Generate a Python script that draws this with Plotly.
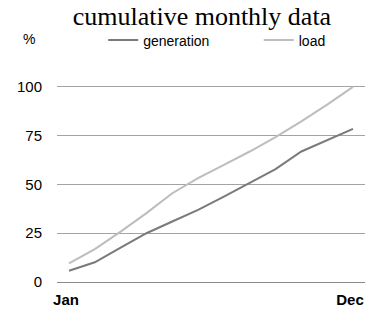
import plotly.graph_objects as go

months = ["Jan", "Feb", "Mar", "Apr", "May", "Jun", "Jul", "Aug", "Sep", "Oct", "Nov", "Dec"]
generation = [5.8, 10.1, 17.6, 25.0, 31.0, 37.0, 43.8, 50.7, 57.9, 66.9, 72.9, 78.5]
load = [9.6, 16.9, 25.8, 35.3, 45.5, 53.2, 60.0, 66.9, 74.3, 82.3, 90.9, 100.0]
y_ticks = [0, 25, 50, 75, 100]
x_tick_labels = ["Jan", "Dec"]

fig = go.Figure()
fig.add_trace(go.Scatter(x=list(range(len(months))), y=generation, mode="lines", name="generation",
                         line=dict(color="#7a7a7a", width=2), legend="legend"))
fig.add_trace(go.Scatter(x=list(range(len(months))), y=load, mode="lines", name="load",
                         line=dict(color="#bdbdbd", width=2), legend="legend2"))

legend_font = dict(family="Liberation Sans", size=14, color="black")
fig.update_layout(
    width=376, height=314,
    margin=dict(l=57, r=11, t=84, b=32, autoexpand=False),
    paper_bgcolor="white", plot_bgcolor="white",
    title=dict(text="cumulative monthly data", x=0.537, xanchor="center", y=0.948, yanchor="middle",
               font=dict(family="Liberation Serif", size=26, color="black")),
    showlegend=True,
    legend=dict(orientation="h", x=0.15, xanchor="left", y=1.22, yanchor="middle",
                font=legend_font, itemwidth=30, bgcolor="rgba(0,0,0,0)"),
    legend2=dict(orientation="h", x=0.655, xanchor="left", y=1.22, yanchor="middle",
                 font=legend_font, itemwidth=30, bgcolor="rgba(0,0,0,0)"),
    font=dict(family="Liberation Sans", color="black"),
)
fig.update_xaxes(
    range=[-0.465, 11.465], showgrid=False, zeroline=False, showline=False,
    tickmode="array", tickvals=[0, len(months) - 1], ticktext=x_tick_labels,
    tickfont=dict(family="Liberation Sans", size=15, color="black", weight="bold"),
    ticks="outside", ticklen=4, tickcolor="rgba(0,0,0,0)", automargin=False, ticklabelshift=-3,
)
fig.update_yaxes(
    range=[0, 101.5], tickmode="array", tickvals=y_ticks,
    showgrid=True, gridcolor="#a3a3a3", gridwidth=1, zeroline=True, zerolinecolor="#8a8a8a", zerolinewidth=1,
    showline=False, ticks="outside", ticklen=11, tickcolor="rgba(0,0,0,0)", automargin=False,
    tickfont=dict(family="Liberation Sans", size=15, color="black"),
)
fig.add_annotation(text="%", xref="paper", yref="paper", x=-0.118, y=1.225, xanchor="left", yanchor="middle",
                   showarrow=False, font=dict(family="Liberation Sans", size=14, color="black"))

fig.write_html("out.html", config={"displayModeBar": False},
               post_script="document.body.style.margin='0';")
